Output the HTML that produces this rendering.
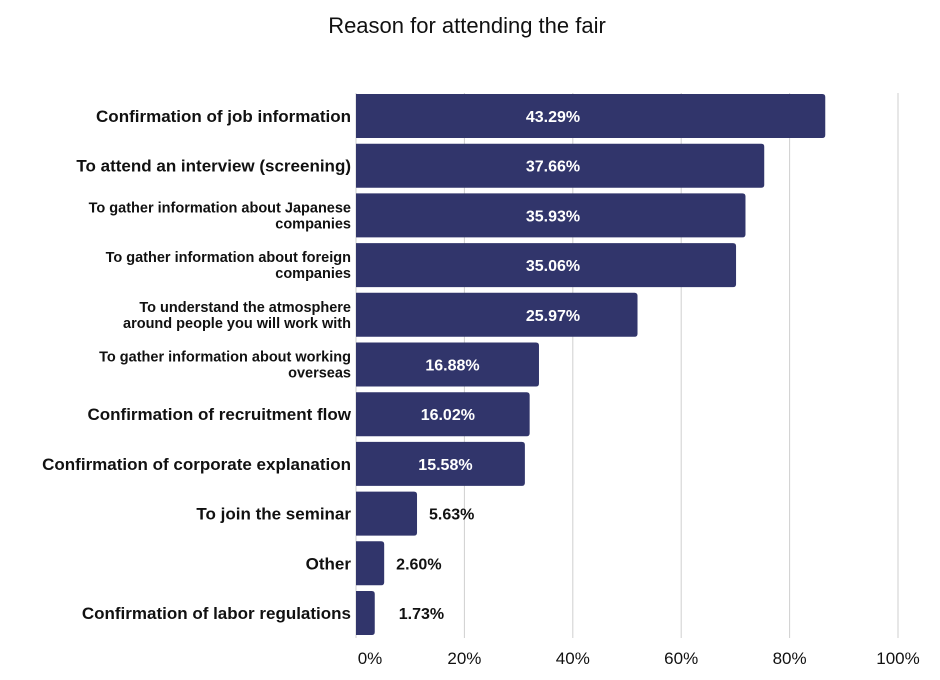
<!DOCTYPE html>
<html><head><meta charset="utf-8"><style>
body{margin:0;background:#fff;}
svg{display:block;font-family:"Liberation Sans",sans-serif;}
</style></head><body>
<svg id="chart" width="940" height="680">
<text x="467" y="33" text-anchor="middle" font-size="22" fill="#111">Reason for attending the fair</text>
<g id="grid"></g><g id="bars"></g><g id="labels"></g><g id="ticks"></g>
</svg>
<script>
const categories=[["Confirmation of job information"],["To attend an interview (screening)"],["To gather information about Japanese","companies"],["To gather information about foreign","companies"],["To understand the atmosphere","around people you will work with"],["To gather information about working","overseas"],["Confirmation of recruitment flow"],["Confirmation of corporate explanation"],["To join the seminar"],["Other"],["Confirmation of labor regulations"]];
const values=[43.29,37.66,35.93,35.06,25.97,16.88,16.02,15.58,5.63,2.60,1.73];
const valueLabels=["43.29%","37.66%","35.93%","35.06%","25.97%","16.88%","16.02%","15.58%","5.63%","2.60%","1.73%"];
const tickValues=[0,20,40,60,80,100];
const tickLabels=["0%","20%","40%","60%","80%","100%"];
const NS="http://www.w3.org/2000/svg";
const x0=356,x1=898;
function xScale(p){return x0+(x1-x0)*p/100;}
// the reference draws bar lengths at twice the axis value
function barEnd(v){return xScale(v*2);}
const top0=94,pitch=49.7,bh=44;
function yScale(i){return top0+i*pitch;}
function mk(tag,attrs,parent){const e=document.createElementNS(NS,tag);for(const k in attrs)e.setAttribute(k,attrs[k]);document.getElementById(parent).appendChild(e);return e;}
tickValues.forEach((t,i)=>{
  const l=mk('line',{x1:xScale(t),x2:xScale(t),y1:93,y2:638,stroke:'#cfcfcf','stroke-width':1},'grid');
  
  
  const tx=mk('text',{x:xScale(t)+(t===0?14:0),y:664,'text-anchor':'middle','font-size':17,fill:'#111'},'ticks');
  tx.textContent=tickLabels[i];
  
  
});
values.forEach((v,i)=>{
  const y=yScale(i),e=barEnd(v),w=e-x0;
  const r=mk('path',{d:`M${x0},${y}H${e-3}Q${e},${y} ${e},${y+3}V${y+bh-3}Q${e},${y+bh} ${e-3},${y+bh}H${x0}Z`,fill:'#31356b'},'bars');
  
  
  let tx;
  if(v>=20){tx=mk('text',{x:553,y:y+bh/2+6,'text-anchor':'middle','font-size':16,'font-weight':'bold',fill:'#fff'},'labels');}
  else if(v>=10){tx=mk('text',{x:x0+w/2+5,y:y+bh/2+6,'text-anchor':'middle','font-size':16,'font-weight':'bold',fill:'#fff'},'labels');}
  else{tx=mk('text',{x:e+12+(v<2?12:0),y:y+bh/2+6,'font-size':16,'font-weight':'bold',fill:'#111'},'labels');}
  tx.textContent=valueLabels[i];
  
  
  const lines=categories[i];
  const two=lines.length>1;
  const fs=two?14.5:17;
  const c=mk('text',{x:351,'text-anchor':'end','font-size':fs,'font-weight':'bold',fill:'#111'},'labels');
  
  
  lines.forEach((s,j)=>{
    const ts=document.createElementNS(NS,'tspan');
    ts.setAttribute('x',351);
    ts.setAttribute('y',two?y+bh/2-3+j*16:y+bh/2+6);
    ts.textContent=s;c.appendChild(ts);
  });
});
</script>
</body></html>
